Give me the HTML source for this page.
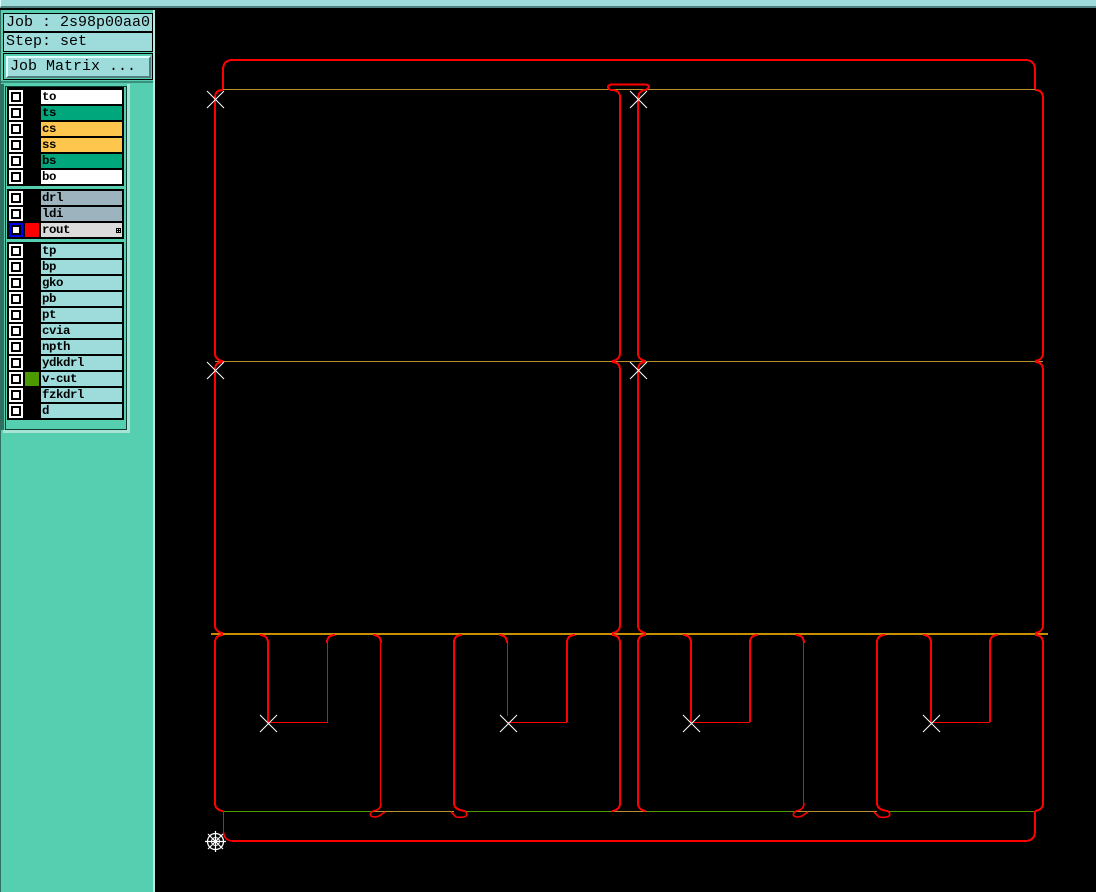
<!DOCTYPE html>
<html>
<head>
<meta charset="utf-8">
<style>
html,body{margin:0;padding:0;background:#000;width:1096px;height:892px;overflow:hidden}
body{position:relative;font-family:"Liberation Mono",monospace}
div{position:absolute;box-sizing:border-box}
.n{left:41px;width:81px;height:14px;line-height:14px;padding-left:1px;font-size:12.4px;letter-spacing:-.45px;font-weight:bold;color:#000;white-space:pre}
.c{left:9px;width:14px;height:14px;background:#000;border:2px solid #fff}
.c::after{content:"";position:absolute;left:2px;top:2px;width:6px;height:6px;background:#fff}
.w{background:#fff}.g{background:#00a67c}.o{background:#ffc64d}.s{background:#9db4bf}.t{background:#9edcdc}
.b{left:3px;width:150px;background:#9edcdc;border:1px solid #000;font-size:15px;color:#000;padding-left:2px;white-space:pre}
svg{position:absolute;left:0;top:0}
.cr{shape-rendering:crispEdges}
</style>
</head>
<body>
<div style="left:0;top:0;width:1096px;height:8px;background:#9edcdc;border-bottom:2px solid #4f7f7f;border-left:1px solid #dff"></div>

<div style="left:0;top:10px;width:155px;height:882px;background:#55cfb0;border-right:2px solid #b4ece0;border-left:1px solid #2f6f60"></div>
<div style="left:1px;top:84px;width:3px;height:346px;background:#2f6f60"></div>
<div class="b" style="top:13px;height:20px;line-height:18px;border-bottom-width:2px">Job : 2s98p00aa0</div>
<div class="b" style="top:32px;height:20px;line-height:18px;border-top-width:1px">Step: set</div>
<div style="left:3px;top:53px;width:150px;height:27px;border:1px solid #000"></div>
<div style="left:6px;top:56px;width:145px;height:22px;background:#9edcdc;border:2px solid;border-color:#dff #4f7f7f #4f7f7f #dff;font-size:15px;line-height:18px;padding-left:2px;color:#000;white-space:pre">Job Matrix ...</div>
<div style="left:1px;top:81px;width:152px;height:2px;background:#3a8f7c"></div>
<div style="left:127px;top:84px;width:3px;height:348px;background:#a8e4d4"></div>
<div style="left:5px;top:86px;width:122px;height:344px;border:1px solid #0d3d33"></div>
<div style="left:3px;top:430px;width:127px;height:3px;background:#a8e4d4"></div>

<div style="left:7px;top:87px;width:117px;height:99px;background:#000"></div>
<div style="left:7px;top:189px;width:117px;height:50px;background:#000"></div>
<div style="left:7px;top:242px;width:117px;height:178px;background:#000"></div>

<div class="c" style="top:90px"></div><div class="n w" style="top:90px">to</div>
<div class="c" style="top:106px"></div><div class="n g" style="top:106px">ts</div>
<div class="c" style="top:122px"></div><div class="n o" style="top:122px">cs</div>
<div class="c" style="top:138px"></div><div class="n o" style="top:138px">ss</div>
<div class="c" style="top:154px"></div><div class="n g" style="top:154px">bs</div>
<div class="c" style="top:170px"></div><div class="n w" style="top:170px">bo</div>

<div class="c" style="top:191px"></div><div class="n s" style="top:191px">drl</div>
<div class="c" style="top:207px"></div><div class="n s" style="top:207px">ldi</div>
<div class="c" style="top:223px;border-color:#0000f0"></div>
<div style="left:25px;top:223px;width:14px;height:14px;background:#f00"></div>
<div class="n" style="top:223px;background:#dcdcdc">rout</div>

<div class="c" style="top:244px"></div><div class="n t" style="top:244px">tp</div>
<div class="c" style="top:260px"></div><div class="n t" style="top:260px">bp</div>
<div class="c" style="top:276px"></div><div class="n t" style="top:276px">gko</div>
<div class="c" style="top:292px"></div><div class="n t" style="top:292px">pb</div>
<div class="c" style="top:308px"></div><div class="n t" style="top:308px">pt</div>
<div class="c" style="top:324px"></div><div class="n t" style="top:324px">cvia</div>
<div class="c" style="top:340px"></div><div class="n t" style="top:340px">npth</div>
<div class="c" style="top:356px"></div><div class="n t" style="top:356px">ydkdrl</div>
<div class="c" style="top:372px"></div>
<div style="left:25px;top:372px;width:14px;height:14px;background:#4c9900"></div>
<div class="n t" style="top:372px">v-cut</div>
<div class="c" style="top:388px"></div><div class="n t" style="top:388px">fzkdrl</div>
<div class="c" style="top:404px"></div><div class="n t" style="top:404px">d</div>

<svg width="1096" height="892" viewBox="0 0 1096 892" fill="none">
  <path class="cr" d="M116.500 228.500h4v4h-4zM118.500 228v5M116 230.500h5" stroke="#000" stroke-width="1"/>
  <!-- profile lines -->
  <g class="cr" stroke="#b8922e" stroke-width="1">
    <path d="M223 89.500H1035M215 361.500H1043"/>
    <path d="M373 811.500H454M612 811.500H647M796 811.500H877"/>
  </g>
  <path class="cr" d="M211 634H1048" stroke="#c89000" stroke-width="2"/>
  <path class="cr" d="M223 811.500H373M466 811.500H612M647 811.500H796M889 811.500H1035" stroke="#4f9a00" stroke-width="1"/>

  <g class="cr" stroke="#f00" stroke-width="2" stroke-linejoin="round">
    <!-- outer top and bottom -->
    <path d="M223 89V70Q223 60 233 60H1025Q1035 60 1035 70V89"/>
    <path d="M1035 811V831Q1035 841 1025 841H232"/>
    <!-- top tab -->
    <path d="M620 104V97Q620 90 611 90Q608 89 608 86.500Q609 84.500 612 84.500H645Q649 85 649 87Q648 89 645 90Q638 91 638 99V104"/>
    <!-- row 1 -->
    <path d="M223 90Q215 90 215 98V353Q215 360 223 361"/>
    <path d="M620 104V353Q620 360 612 361"/>
    <path d="M638 104V353Q638 360 646 361"/>
    <path d="M1035 90Q1043 90 1043 98V353Q1043 360 1035 361"/>
    <!-- row 2 -->
    <path d="M223 362Q215 362 215 370V625Q215 632 223 633"/>
    <path d="M612 362Q620 362 620 370V625Q620 632 612 633"/>
    <path d="M646 362Q638 362 638 370V625Q638 632 646 633"/>
    <path d="M1035 362Q1043 362 1043 370V625Q1043 632 1035 633"/>
    <!-- row 3, left edges and right edges -->
    <path d="M223 635Q215 635 215 643V803Q215 810 223 811"/>
    <path d="M612 635Q620 635 620 643V803Q620 810 612 811"/>
    <path d="M646 635Q638 635 638 643V803Q638 810 646 811"/>
    <path d="M1035 635Q1043 635 1043 643V803Q1043 810 1035 811"/>
    <!-- piece 2 and piece 4 left edges -->
    <path d="M462 635Q454 635 454 643V803Q454 810 465 811"/>
    <path d="M885 635Q877 635 877 643V803Q877 810 888 811"/>
    <!-- notch curves -->
    <path d="M260 635Q268 635 268 643V722"/>
    <path d="M327 643Q327 635 335 635"/>
    <path d="M373 635Q381 635 381 643"/>
    <path d="M499 635Q507 635 507 643"/>
    <path d="M567 722V643Q567 635 575 635"/>
    <path d="M683 635Q691 635 691 643V722"/>
    <path d="M750 722V643Q750 635 758 635"/>
    <path d="M796 635Q804 635 804 643"/>
    <path d="M923 635Q931 635 931 643V722"/>
    <path d="M990 722V643Q990 635 998 635"/>
  </g>
  <g class="cr" stroke="#f00" stroke-width="1">
    <path d="M268 722.500H327.500V643"/>
    <path d="M380.500 643V803"/>
    <path d="M507.500 643V716"/>
    <path d="M507.500 722.500H567"/>
    <path d="M691 722.500H750"/>
    <path d="M931 722.500H990"/>
    <path d="M803.500 643V803"/>
    <path d="M223.500 811V832"/>
  </g>
  <g stroke="#f00" stroke-width="1.600">
    <path d="M381 803Q381 810 373 811Q369 814 371 816Q374 818 379 816L385 812"/>
    <path d="M804 803Q804 810 796 811Q792 814 794 816Q797 818 802 816L808 812"/>
    <path d="M465 811Q468 814 466 816Q463 818 456 817L451 812"/>
    <path d="M888 811Q891 814 889 816Q886 818 879 817L874 812"/>
    <path d="M223.500 832Q224 840 232 841"/>
  </g>

  <!-- crosses -->
  <g stroke="#fff" stroke-width="1">
    <path d="M207 91L224 108M224 91L207 108"/>
    <path d="M207 362L224 379M224 362L207 379"/>
    <path d="M630 91L647 108M647 91L630 108"/>
    <path d="M630 362L647 379M647 362L630 379"/>
    <path d="M260 715L277 732M277 715L260 732"/>
    <path d="M500 715L517 732M517 715L500 732"/>
    <path d="M683 715L700 732M700 715L683 732"/>
    <path d="M923 715L940 732M940 715L923 732"/>
    <!-- datum gear -->
    <circle cx="215.500" cy="841.500" r="8" stroke-width="1.300"/>
    <circle cx="215.500" cy="841.500" r="4"/>
    <path d="M205 841.500H226M215.500 831V852M208 834L223 849M223 834L208 849" stroke-width="1.200"/>
  </g>
</svg>
</body>
</html>
